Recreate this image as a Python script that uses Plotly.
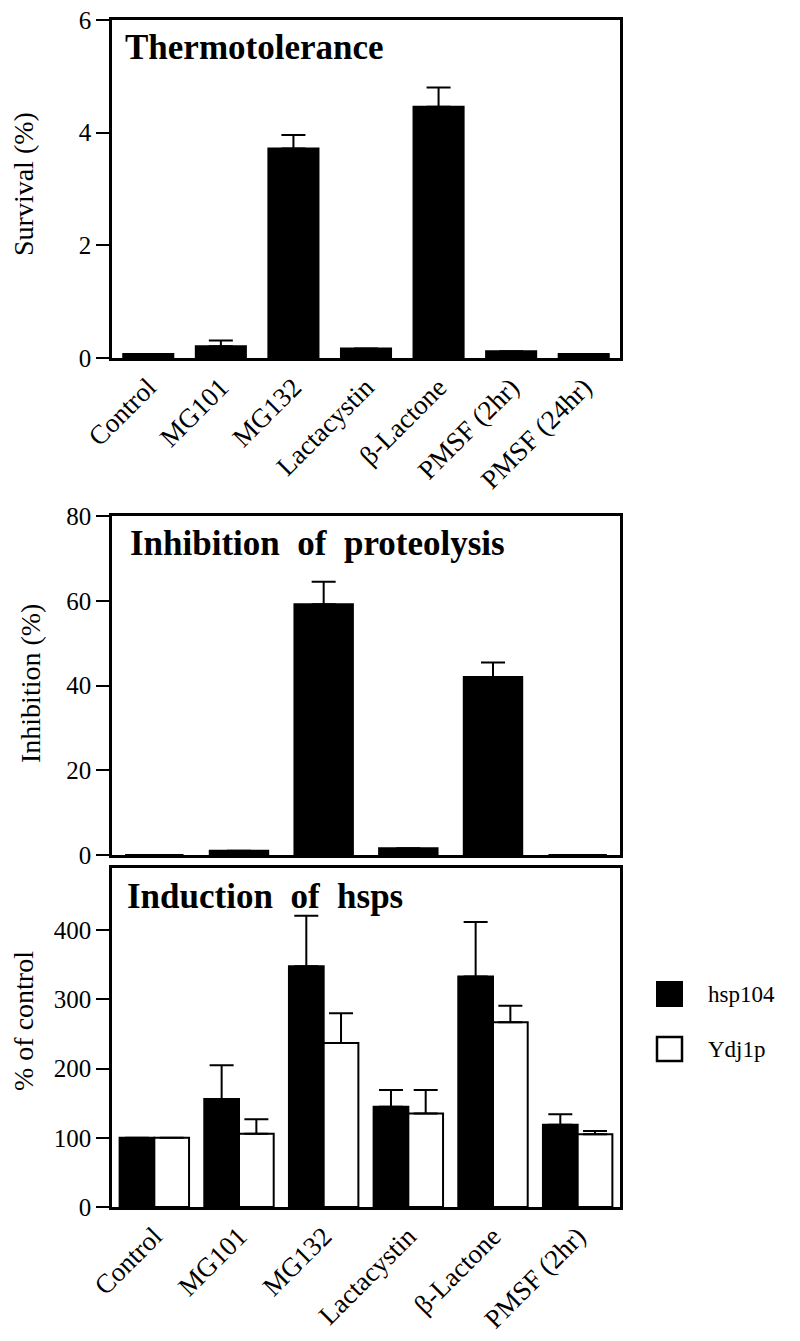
import plotly.graph_objects as go

# ---------------- data ----------------
categories_all = ["Control", "MG101", "MG132", "Lactacystin", "β-Lactone", "PMSF (2hr)", "PMSF (24hr)"]
categories_six = ["Control", "MG101", "MG132", "Lactacystin", "β-Lactone", "PMSF (2hr)"]

survival = [0.07, 0.21, 3.72, 0.17, 4.46, 0.12, 0.07]
survival_err = [None, 0.10, 0.24, None, 0.34, None, None]

inhibition = [0.0, 1.0, 59.2, 1.6, 42.0, 0.0]
inhibition_err = [None, None, 5.3, None, 3.4, None]

hsp104 = [100, 156, 348, 145, 333, 119]
hsp104_err = [None, 49, 73, 24, 79, 15]
ydj1p = [100, 106, 237, 135, 267, 105]
ydj1p_err = [None, 21, 43, 34, 24, 5]

panel_titles = ["Thermotolerance", "Inhibition\u00a0\u00a0of\u00a0\u00a0proteolysis", "Induction\u00a0\u00a0of\u00a0\u00a0hsps"]
y_titles = ["Survival (%)", "Inhibition (%)", "% of control"]
series_names = ["hsp104", "Ydj1p"]

# ---------------- layout helpers ----------------
W, H = 800, 1341
FONT = "Liberation Serif"
PAGE_OFFSET = 8  # default body margin of the html page


def px_x(x):
    return (x - PAGE_OFFSET) / W


def px_y(y):
    return 1 - (y - PAGE_OFFSET) / H


def zeros(n):
    return [0] * n


fig = go.Figure()

err_style = dict(type="data", symmetric=False, color="black", thickness=2, width=12)

fig.add_trace(go.Bar(
    x=categories_all, y=survival, width=0.69,
    marker=dict(color="black", line=dict(color="black", width=2)),
    error_y=dict(array=survival_err, arrayminus=zeros(len(survival)), **err_style),
    xaxis="x", yaxis="y", showlegend=False,
))
fig.add_trace(go.Bar(
    x=categories_six, y=inhibition, width=0.69,
    marker=dict(color="black", line=dict(color="black", width=2)),
    error_y=dict(array=inhibition_err, arrayminus=zeros(len(inhibition)), **err_style),
    xaxis="x2", yaxis="y2", showlegend=False,
))
fig.add_trace(go.Bar(
    x=categories_six, y=hsp104, width=0.41, offset=-0.41, name=series_names[0],
    marker=dict(color="black", line=dict(color="black", width=2)),
    error_y=dict(array=hsp104_err, arrayminus=zeros(len(hsp104)), **err_style),
    xaxis="x3", yaxis="y3", showlegend=False,
))
fig.add_trace(go.Bar(
    x=categories_six, y=ydj1p, width=0.41, offset=0.0, name=series_names[1],
    marker=dict(color="white", line=dict(color="black", width=2)),
    error_y=dict(array=ydj1p_err, arrayminus=zeros(len(ydj1p)), **err_style),
    xaxis="x3", yaxis="y3", showlegend=False,
))

x_dom = [px_x(112), px_x(620)]
axis_common = dict(showline=True, linecolor="black", linewidth=2.5, mirror=True,
                   showgrid=False, zeroline=False, automargin=False, ticklabeloverflow="allow")
xtick_font = dict(family=FONT, size=27, color="black")
ytick_font = dict(family=FONT, size=25, color="black")
ytick_style = dict(ticks="outside", ticklen=13, tickwidth=2, tickcolor="black", tickfont=ytick_font)

fig.update_layout(
    template="none",
    width=W, height=H,
    margin=dict(l=0, r=0, t=0, b=0, pad=0, autoexpand=False),
    paper_bgcolor="white", plot_bgcolor="white",
    barmode="overlay",
    font=dict(family=FONT, color="black"),
    xaxis=dict(domain=x_dom, anchor="y", type="category", range=[-0.5, 6.5],
               ticks="", tickangle=-45, tickfont=xtick_font, **axis_common),
    yaxis=dict(domain=[px_y(358), px_y(20)], anchor="x", range=[0, 6],
               tickvals=[0, 2, 4, 6], **ytick_style, **axis_common),
    xaxis2=dict(domain=x_dom, anchor="y2", type="category", range=[-0.5, 5.5],
                ticks="", showticklabels=False, **axis_common),
    yaxis2=dict(domain=[px_y(855), px_y(516)], anchor="x2", range=[0, 80],
                tickvals=[0, 20, 40, 60, 80], **ytick_style, **axis_common),
    xaxis3=dict(domain=x_dom, anchor="y3", type="category", range=[-0.5, 5.5],
                ticks="", tickangle=-45, tickfont=xtick_font, **axis_common),
    yaxis3=dict(domain=[px_y(1207), px_y(868)], anchor="x3", range=[0, 490],
                tickvals=[0, 100, 200, 300, 400], **ytick_style, **axis_common),
)

annotations = []
# panel titles
for title, (x, y) in zip(panel_titles, [(123, 48), (128, 543), (125, 896)]):
    annotations.append(dict(text=title, xref="paper", yref="paper", x=px_x(x), y=px_y(y),
                            xanchor="left", yanchor="middle", showarrow=False,
                            font=dict(family=FONT, size=35, color="black", weight="bold")))
# y-axis titles
for title, (x, y) in zip(y_titles, [(23, 184), (30, 684), (23, 1021)]):
    annotations.append(dict(text=title, xref="paper", yref="paper", x=px_x(x), y=px_y(y),
                            xanchor="center", yanchor="middle", textangle=-90, showarrow=False,
                            font=dict(family=FONT, size=28, color="black")))
# legend
for name, y in zip(series_names, [994, 1049]):
    annotations.append(dict(text=name, xref="paper", yref="paper", x=px_x(706), y=px_y(y),
                            xanchor="left", yanchor="middle", showarrow=False,
                            font=dict(family=FONT, size=23, color="black")))

shapes = [
    dict(type="rect", xref="paper", yref="paper", x0=px_x(657), x1=px_x(682), y0=px_y(1006), y1=px_y(982),
         fillcolor="black", line=dict(color="black", width=2)),
    dict(type="rect", xref="paper", yref="paper", x0=px_x(657), x1=px_x(682), y0=px_y(1061), y1=px_y(1037),
         fillcolor="white", line=dict(color="black", width=2.5)),
]

fig.update_layout(annotations=annotations, shapes=shapes)

fig.write_html("out.html")
